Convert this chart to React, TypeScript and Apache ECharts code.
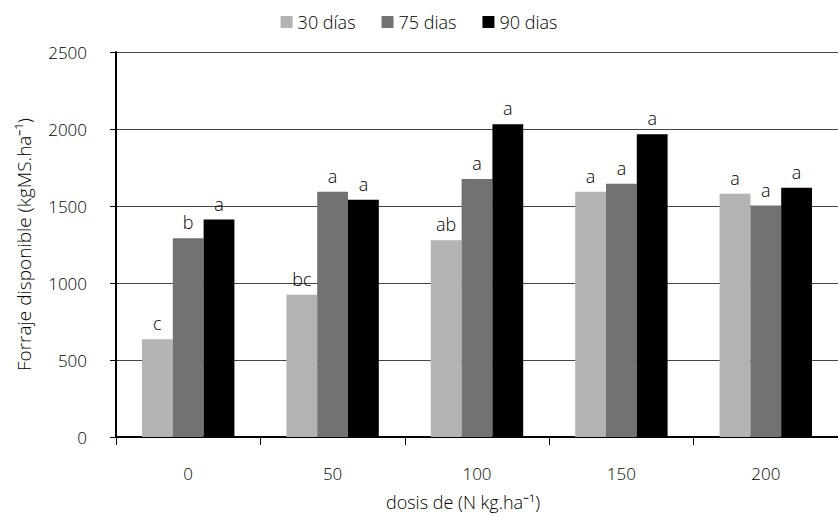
import React, { useEffect, useRef } from "react";
import * as echarts from "echarts";

const categories = ["0", "50", "100", "150", "200"];
const seriesNames = ["30 días", "75 dias", "90 dias"];
const values30 = [635, 923, 1277, 1593, 1580];
const values75 = [1290, 1593, 1676, 1644, 1503];
const values90 = [1412, 1541, 2031, 1966, 1619];
const letters30 = ["c", "bc", "ab", "a", "a"];
const letters75 = ["b", "a", "a", "a", "a"];
const letters90 = ["a", "a", "a", "a", "a"];
const colors = ["#b2b3b5", "#717274", "#000000"];
const yTicks = { min: 0, max: 2500, interval: 500 };

const FONT = "Open Sans";

export default function App() {
  const ref = useRef<HTMLDivElement>(null);
  useEffect(() => {
    if (!ref.current) return;
    const chart = echarts.init(ref.current, undefined, { renderer: "svg" });
    const allValues = [values30, values75, values90];
    const allLetters = [letters30, letters75, letters90];
    const txt = { fontSize: 17, color: "#000", fontFamily: FONT, fontWeight: 300 };
    chart.setOption({
      animation: false,
      textStyle: { fontFamily: FONT },
      legend: {
        top: 8,
        left: "center",
        itemWidth: 12,
        itemHeight: 12,
        itemGap: 26,
        icon: "rect",
        textStyle: { ...txt, fontSize: 18 },
        data: seriesNames,
      },
      grid: { left: 116, right: -6, top: 52, bottom: 76, containLabel: false },
      xAxis: {
        type: "category",
        data: categories,
        name: "dosis de (N kg.ha⁻¹)",
        nameLocation: "middle",
        nameGap: 56,
        nameTextStyle: { ...txt, fontSize: 18, padding: [0, 28, 0, 0] },
        axisLine: { lineStyle: { color: "#000", width: 2 } },
        axisTick: { show: true, length: 8, lineStyle: { color: "#000", width: 1 } },
        axisLabel: { ...txt, margin: 28 },
      },
      yAxis: {
        type: "value",
        min: yTicks.min,
        max: yTicks.max,
        interval: yTicks.interval,
        name: "Forraje disponible (kgMS.ha⁻¹)",
        nameLocation: "middle",
        nameGap: 83,
        nameTextStyle: { ...txt, fontSize: 19 },
        axisLine: { show: true, lineStyle: { color: "#000", width: 2 } },
        axisTick: { show: true, length: 6, lineStyle: { color: "#000", width: 1 } },
        axisLabel: { ...txt, margin: 29, formatter: (v: number) => String(v) },
        splitLine: { show: true, lineStyle: { color: "#444", width: 1 } },
      },
      series: seriesNames.map((name, i) => ({
        name,
        type: "bar",
        data: allValues[i],
        barGap: "0%",
        barCategoryGap: "36%",
        itemStyle: { color: colors[i] },
        label: {
          show: true,
          position: "top",
          distance: 7,
          ...txt,
          fontSize: 18,
          formatter: (p: any) => allLetters[i][p.dataIndex],
        },
      })),
    });
    return () => chart.dispose();
  }, []);
  return (
    <div
      ref={ref}
      style={{ position: "absolute", left: 0, top: 0, width: 838, height: 516 }}
    />
  );
}
